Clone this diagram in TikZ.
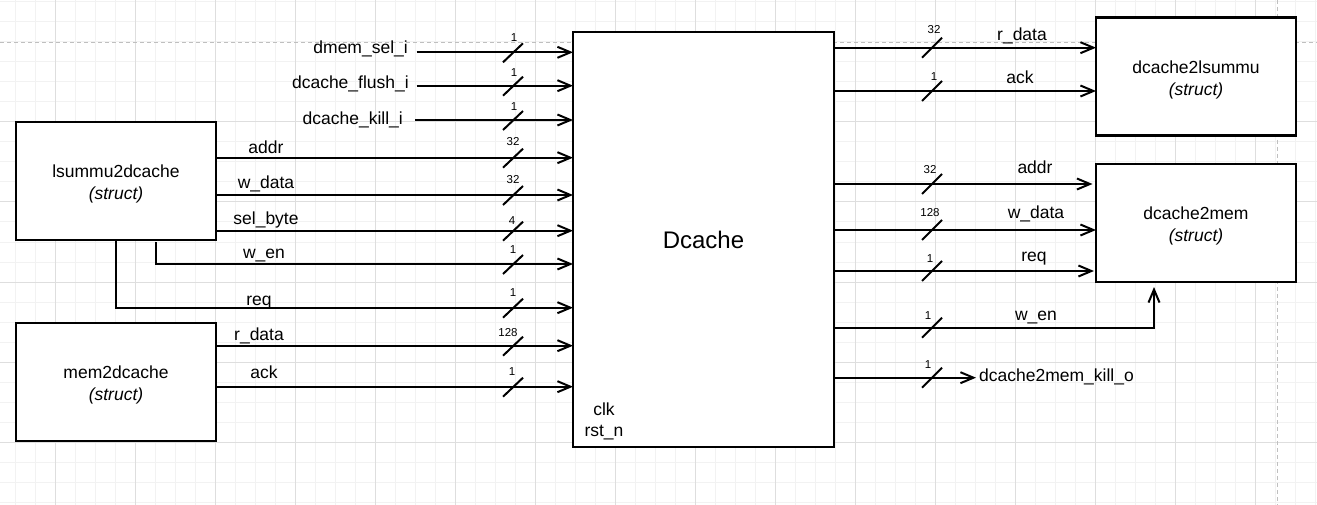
\documentclass[tikz,border=0pt]{standalone}
\usepackage{fontspec}
\setmainfont{Liberation Sans}
\usetikzlibrary{arrows.meta,calc}
\begin{document}
\begin{tikzpicture}[x=1pt,y=-1pt,
  box/.style={draw,line width=2.2pt,fill=white,inner sep=0pt,outer sep=0pt,minimum width=200pt,minimum height=118pt},
  boxtxt/.style={inner sep=0pt,align=center,font=\fontsize{17.5}{22}\selectfont},
  sig/.style={line width=2pt,-{Straight Barb[length=13pt,width=11pt]}},
  lbl/.style={font=\fontsize{17.5}{21}\selectfont,inner sep=0pt,anchor=base},
  wlbl/.style={font=\fontsize{11.5}{13}\selectfont,inner sep=0pt},
  slashmark/.style={line width=2pt},
  minorgrid/.style={draw=black!5,line width=1pt},
  majorgrid/.style={draw=black!13,line width=1pt},
  pgbrk/.style={draw=black!25,line width=1pt,dash pattern=on 4pt off 3pt}
]
\useasboundingbox (0,0) rectangle (1317,505);
\fill[white] (0,0) rectangle (1317,505);
% grid
\foreach \x in {15,35,...,1315} \draw[minorgrid] (\x,0) -- (\x,505);
\foreach \y in {2,22,...,502} \draw[minorgrid] (0,\y) -- (1317,\y);
\foreach \x in {55,135,...,1295} \draw[majorgrid] (\x,0) -- (\x,505);
\foreach \y in {122,202,...,442} \draw[majorgrid] (0,\y) -- (1317,\y);
\draw[pgbrk] (0,42.5) -- (1317,42.5);
\draw[pgbrk] (1277,0) -- (1277,505);

% boxes
\node[box,minimum width=261pt,minimum height=415pt,font=\fontsize{24}{28}\selectfont] (dc) at (703.5,239.5) {Dcache};
\node[box] (lsu) at (116,181) {};
\node[box] (mem) at (116,382) {};
\node[box] (d2l) at (1196,76.5) {};
\node[box] (d2m) at (1196,223) {};
\node[boxtxt] (lsut) at ($(lsu)+(0,2.5)$) {lsummu2dcache\\\textit{(struct)}};
\node[boxtxt] (memt) at ($(mem)+(0,3)$) {mem2dcache\\\textit{(struct)}};
\node[boxtxt] (d2lt) at ($(d2l)+(0,3)$) {dcache2lsummu\\\textit{(struct)}};
\node[boxtxt] (d2mt) at ($(d2m)+(0,3)$) {dcache2mem\\\textit{(struct)}};

\node[lbl] (clk) at (604,415) {clk};
\node[lbl] (rst) at (604,436.7) {rst\_n};

% free inputs
\coordinate (s1) at (416.7,52.3);
\coordinate (s2) at (416.7,85.7);
\coordinate (s3) at (415,120);
\draw[sig] (s1) -- (dc.west |- s1);
\draw[sig] (s2) -- (dc.west |- s2);
\draw[sig] (s3) -- (dc.west |- s3);
\node[lbl,anchor=base east] (l1) at (408,54) {dmem\_sel\_i};
\node[lbl,anchor=base east] (l2) at (409,89) {dcache\_flush\_i};
\node[lbl,anchor=base east] (l3) at (403,124.5) {dcache\_kill\_i};

% from lsummu2dcache
\draw[sig] (lsu.east |- 0,157.7) -- (dc.west |- 0,157.7);
\draw[sig] (lsu.east |- 0,195) -- (dc.west |- 0,195);
\draw[sig] (lsu.east |- 0,230.7) -- (dc.west |- 0,230.7);
\draw[sig] ($(lsu.south)+(39.7,2)$) |- (dc.west |- 0,264);
\draw[sig] (lsu.south) |- (dc.west |- 0,307.7);
\node[lbl] (ia) at (266,154) {addr};
\node[lbl] (iw) at (266,188.3) {w\_data};
\node[lbl] (is) at (266,225) {sel\_byte};
\node[lbl] (ie) at (264,258.3) {w\_en};
\node[lbl] (iq) at (259,305) {req};

% from mem2dcache
\draw[sig] (mem.east |- 0,345.7) -- (dc.west |- 0,345.7);
\draw[sig] (mem.east |- 0,386.7) -- (dc.west |- 0,386.7);
\node[lbl] (ir) at (259,340.7) {r\_data};
\node[lbl] (ik) at (264,378.3) {ack};

% input slashes
\foreach \y in {52.3,85.7,120,157.7,195,230.7,264,307.7,345.7,386.7}
  \draw[slashmark] (503,\y+10) -- (523,\y-9);
\node[wlbl] (w1) at (514,38) {1};
\node[wlbl] (w2) at (514,73) {1};
\node[wlbl] (w3) at (514,107) {1};
\node[wlbl] (w4) at (513,142) {32};
\node[wlbl] (w5) at (513,180) {32};
\node[wlbl] (w6) at (512,221) {4};
\node[wlbl] (w7) at (513,250) {1};
\node[wlbl] (w8) at (513,293) {1};
\node[wlbl] (w9) at (508,333) {128};
\node[wlbl] (w10) at (512,372) {1};

% outputs
\draw[sig] (dc.east |- 0,47.7) -- (d2l.west |- 0,47.7);
\draw[sig] (dc.east |- 0,91) -- (d2l.west |- 0,91);
\draw[sig,shorten >=3.5pt] (dc.east |- 0,184) -- (d2m.west |- 0,184);
\draw[sig] (dc.east |- 0,230) -- (d2m.west |- 0,230);
\draw[sig,shorten >=2pt] (dc.east |- 0,271) -- (d2m.west |- 0,271);
\draw[sig] (dc.east |- 0,327.7) -| ($(d2m.south)+(-42,5)$);
\node[lbl,anchor=base west] (kl) at (979,381.7) {dcache2mem\_kill\_o};
\draw[sig,shorten >=3pt] (dc.east |- 0,377.7) -- (kl.west |- 0,377.7);

\node[lbl] (or) at (1022,40.7) {r\_data};
\node[lbl] (ok) at (1020,84) {ack};
\node[lbl] (oa) at (1035,174) {addr};
\node[lbl] (ow) at (1036,218.3) {w\_data};
\node[lbl] (oq) at (1034,261.7) {req};
\node[lbl] (oe) at (1036,320.7) {w\_en};

% output slashes
\foreach \y in {47.7,91,184,230,271,327.7,377.7}
  \draw[slashmark] (922,\y+10) -- (942,\y-10);
\node[wlbl] (v1) at (934,30) {32};
\node[wlbl] (v2) at (934,77) {1};
\node[wlbl] (v3) at (930,170) {32};
\node[wlbl] (v4) at (930,213) {128};
\node[wlbl] (v5) at (930,259) {1};
\node[wlbl] (v6) at (928,316) {1};
\node[wlbl] (v7) at (928,365) {1};
\end{tikzpicture}
\end{document}
